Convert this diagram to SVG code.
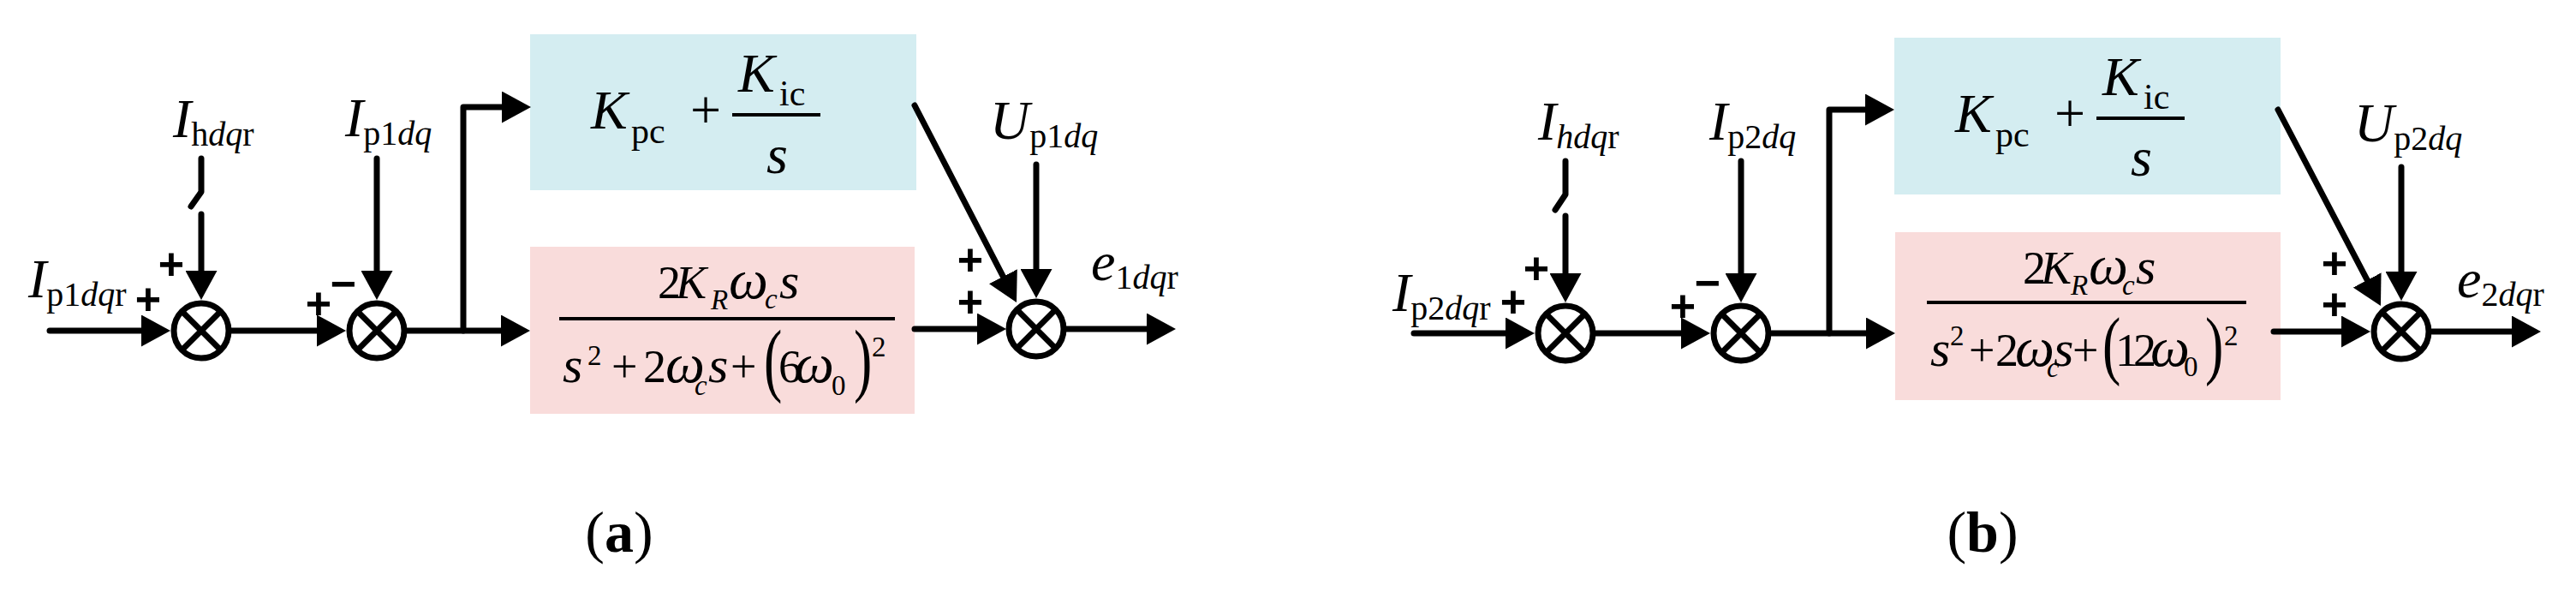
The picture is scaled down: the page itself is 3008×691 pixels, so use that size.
<svg xmlns="http://www.w3.org/2000/svg" width="3008" height="691" viewBox="0 0 3008 691">
<style>
.ln{stroke:#000;stroke-width:7;fill:none;stroke-linecap:round;stroke-linejoin:round}
.arr{marker-end:url(#ah)}
.sj{stroke:#000;stroke-width:7;fill:none}
.bar{stroke:#000;stroke-width:4}
.blue{fill:#D4EDF1}
.pink{fill:#F9DCDB}
.m{font-family:"Liberation Serif","Times New Roman",serif;fill:#000;font-size:64px}
.i{font-style:italic}
.sub{font-size:40px}
.bs{font-size:42px}
.f{font-size:54px}
.fb{font-size:60px}
.fw{font-size:65px}
.fs{font-size:33px}
.sg{font-family:"Liberation Sans",Arial,sans-serif;font-weight:bold;font-size:52px;fill:#000;text-anchor:middle}
.cap{font-family:"Liberation Serif","Times New Roman",serif;font-size:68px;fill:#000;text-anchor:middle}
</style>
<defs>
<marker id="ah" markerUnits="userSpaceOnUse" markerWidth="34" markerHeight="37" refX="2" refY="18.5" orient="auto">
<path d="M0,0 L34,18.5 L0,37 Z" fill="#000"/>
</marker>
<g id="sumj"><circle r="32" class="sj"/><path d="M-22.6,-22.6 L22.6,22.6 M22.6,-22.6 L-22.6,22.6" class="sj"/></g>
</defs>
<rect width="3008" height="691" fill="#fff"/>

<!-- Panel (a) -->
<g id="a-pi">
<rect class="blue" x="619" y="40" width="451" height="182"/>
<text class="m"><tspan class="i" x="690" y="150">K</tspan><tspan class="bs" x="737" y="167">pc</tspan><tspan x="806" y="150">+</tspan><tspan class="i" x="862" y="107">K</tspan><tspan class="bs" x="910" y="123">ic</tspan><tspan class="i" x="895" y="202">s</tspan></text>
<line class="bar" x1="855" y1="134" x2="958" y2="134"/>
</g>
<g id="a-res">
<rect class="pink" x="619" y="288" width="449" height="195"/>
<text class="m f"><tspan x="768" y="348">2</tspan><tspan class="i" x="789" y="348">K</tspan><tspan class="i fs" x="830" y="361">R</tspan><tspan class="i fw" x="851" y="348">ω</tspan><tspan class="i fs" x="893" y="360">c</tspan><tspan class="i fb" x="910" y="348">s</tspan></text>
<line class="bar" x1="653" y1="372" x2="1045" y2="372"/>
<text class="m f"><tspan class="i fb" x="657" y="446">s</tspan><tspan class="fs" x="686" y="426">2</tspan><tspan x="714" y="446">+</tspan><tspan x="751" y="446">2</tspan><tspan class="i fw" x="777" y="446">ω</tspan><tspan class="i fs" x="811" y="461">c</tspan><tspan class="i fb" x="827" y="446">s</tspan><tspan x="853" y="446">+</tspan><tspan x="909" y="446">6</tspan><tspan class="i fw" x="928" y="446">ω</tspan><tspan class="fs" x="971" y="461">0</tspan><tspan class="fs" x="1018" y="416">2</tspan></text>
<text class="m" font-size="60" transform="translate(892,451) scale(1,1.5)">(</text>
<text class="m" font-size="60" transform="translate(997,451) scale(1,1.5)">)</text>
</g>
<g id="a-s1"><use href="#sumj" x="235" y="386"/></g>
<g id="a-s2"><use href="#sumj" x="440" y="386"/></g>
<g id="a-s3"><use href="#sumj" x="1210" y="384"/></g>
<g id="a-labels">
<text class="m" x="33" y="347"><tspan class="i">I</tspan><tspan class="sub" dy="10">p1</tspan><tspan class="sub i">dq</tspan><tspan class="sub">r</tspan></text>
<text class="m" x="202" y="160"><tspan class="i">I</tspan><tspan class="sub" dy="10">h</tspan><tspan class="sub i">dq</tspan><tspan class="sub">r</tspan></text>
<text class="m" x="403" y="159"><tspan class="i">I</tspan><tspan class="sub" dy="10">p1</tspan><tspan class="sub i">dq</tspan></text>
<text class="m" x="1156" y="162"><tspan class="i">U</tspan><tspan class="sub" dy="10">p1</tspan><tspan class="sub i">dq</tspan></text>
<text class="m" x="1274" y="327"><tspan class="i">e</tspan><tspan class="sub" dy="10">1</tspan><tspan class="sub i">dq</tspan><tspan class="sub">r</tspan></text>
<text class="sg" x="173" y="367">+</text>
<text class="sg" x="200" y="326">+</text>
<text class="sg" x="372" y="372">+</text>
<text class="sg" x="401" y="349">−</text>
<text class="sg" x="1133" y="321">+</text>
<text class="sg" x="1133" y="370">+</text>
<text class="cap" x="723" y="644">(<tspan font-weight="bold">a</tspan>)</text>
</g>

<!-- Panel (b) -->
<g id="b-pi">
<rect class="blue" x="2212" y="44" width="451" height="183"/>
<text class="m"><tspan class="i" x="2283" y="154">K</tspan><tspan class="bs" x="2330" y="171">pc</tspan><tspan x="2399" y="154">+</tspan><tspan class="i" x="2455" y="111">K</tspan><tspan class="bs" x="2503" y="127">ic</tspan><tspan class="i" x="2488" y="205">s</tspan></text>
<line class="bar" x1="2448" y1="138" x2="2551" y2="138"/>
</g>
<g id="b-res">
<rect class="pink" x="2213" y="271" width="450" height="196"/>
<text class="m f"><tspan x="2362" y="331">2</tspan><tspan class="i" x="2383" y="331">K</tspan><tspan class="i fs" x="2418" y="344">R</tspan><tspan class="i fw" x="2439" y="331">ω</tspan><tspan class="i fs" x="2478" y="344">c</tspan><tspan class="i fb" x="2494" y="331">s</tspan></text>
<line class="bar" x1="2250" y1="353" x2="2623" y2="353"/>
<text class="m f"><tspan class="i fb" x="2254" y="427">s</tspan><tspan class="fs" x="2277" y="403">2</tspan><tspan x="2299" y="427">+</tspan><tspan x="2330" y="427">2</tspan><tspan class="i fw" x="2353" y="427">ω</tspan><tspan class="i fs" x="2390" y="440">c</tspan><tspan class="i fb" x="2398" y="427">s</tspan><tspan x="2420" y="427">+</tspan><tspan x="2470" y="427">1</tspan><tspan x="2491" y="427">2</tspan><tspan class="i fw" x="2511" y="427">ω</tspan><tspan class="fs" x="2550" y="439">0</tspan><tspan class="fs" x="2597" y="403">2</tspan></text>
<text class="m" font-size="60" transform="translate(2455,432) scale(1,1.4)">(</text>
<text class="m" font-size="60" transform="translate(2575,432) scale(1,1.4)">)</text>
</g>
<g id="b-s1"><use href="#sumj" x="1828" y="389"/></g>
<g id="b-s2"><use href="#sumj" x="2033" y="389"/></g>
<g id="b-s3"><use href="#sumj" x="2804" y="387"/></g>
<g id="b-labels">
<text class="m" x="1626" y="363"><tspan class="i">I</tspan><tspan class="sub" dy="10">p2</tspan><tspan class="sub i">dq</tspan><tspan class="sub">r</tspan></text>
<text class="m" x="1796" y="163"><tspan class="i">I</tspan><tspan class="sub i" dy="10">hdq</tspan><tspan class="sub">r</tspan></text>
<text class="m" x="1996" y="163"><tspan class="i">I</tspan><tspan class="sub" dy="10">p2</tspan><tspan class="sub i">dq</tspan></text>
<text class="m" x="2749" y="165"><tspan class="i">U</tspan><tspan class="sub" dy="10">p2</tspan><tspan class="sub i">dq</tspan></text>
<text class="m" x="2869" y="347"><tspan class="i">e</tspan><tspan class="sub" dy="10">2</tspan><tspan class="sub i">dq</tspan><tspan class="sub">r</tspan></text>
<text class="sg" x="1767" y="370">+</text>
<text class="sg" x="1794" y="331">+</text>
<text class="sg" x="1965" y="375">+</text>
<text class="sg" x="1994" y="348">−</text>
<text class="sg" x="2726" y="325">+</text>
<text class="sg" x="2726" y="373">+</text>
<text class="cap" x="2315" y="644">(<tspan font-weight="bold">b</tspan>)</text>
</g>

<g id="connectors">
<path class="ln arr" d="M58,386 H167"/>
<path class="ln arr" d="M270,386 H372"/>
<path class="ln arr" d="M475,386 H587"/>
<path class="ln arr" d="M541,386 V125 H588"/>
<path class="ln" d="M235,185 V224 L223,241"/>
<path class="ln arr" d="M235,250 V318"/>
<path class="ln arr" d="M440,185 V318"/>
<path class="ln arr" d="M1068,384 H1143"/>
<path class="ln arr" d="M1068,123 L1172.3,324.6"/>
<path class="ln arr" d="M1210,192 V316"/>
<path class="ln arr" d="M1245,384 H1341"/>

<path class="ln arr" d="M1651,389 H1760"/>
<path class="ln arr" d="M1863,389 H1965"/>
<path class="ln arr" d="M2069,389 H2181"/>
<path class="ln arr" d="M2136,389 V128 H2180"/>
<path class="ln" d="M1828,188 V227 L1816,245"/>
<path class="ln arr" d="M1828,252 V321"/>
<path class="ln arr" d="M2033,188 V321"/>
<path class="ln arr" d="M2655,387 H2736"/>
<path class="ln arr" d="M2660,128 L2765.1,328.7"/>
<path class="ln arr" d="M2804,195 V319"/>
<path class="ln arr" d="M2840,387 H2935"/>
</g>
</svg>
